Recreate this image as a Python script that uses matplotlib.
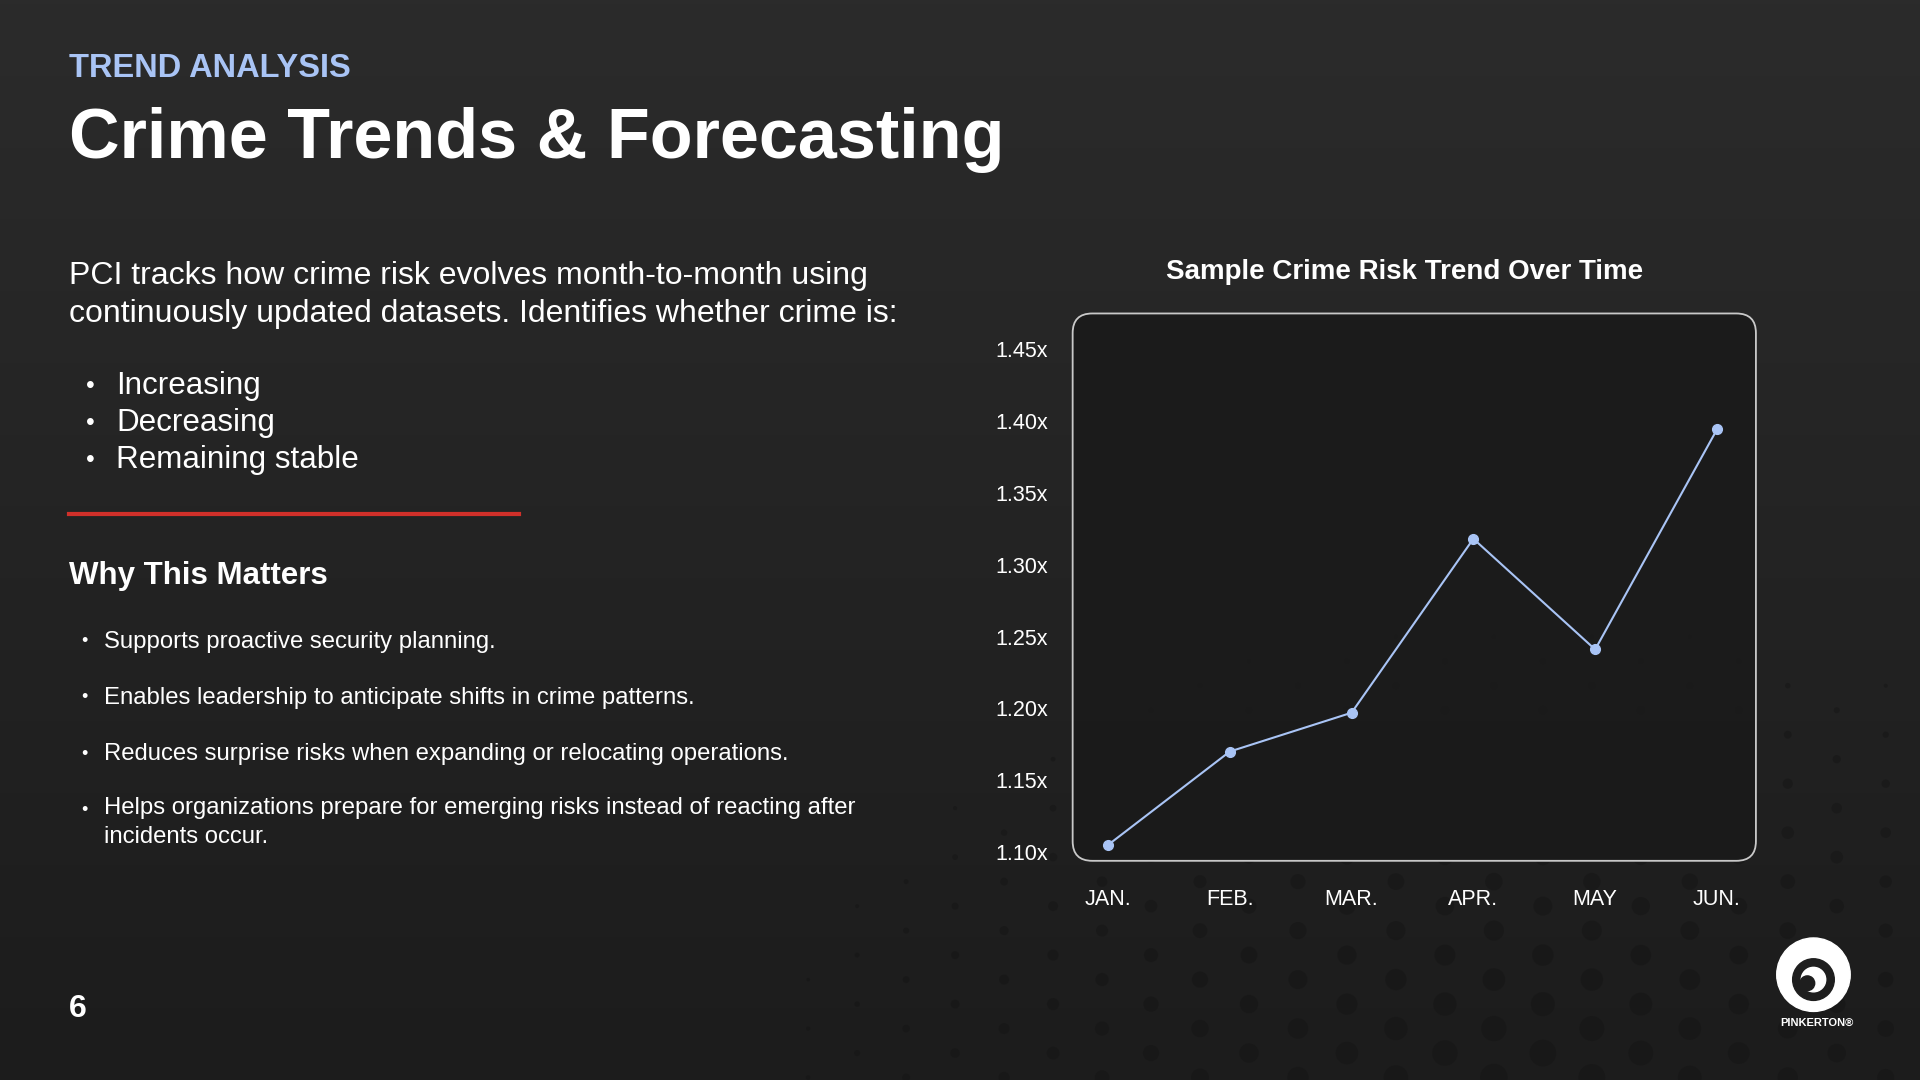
import numpy as np
import matplotlib
matplotlib.use("Agg")
import matplotlib.pyplot as plt
from matplotlib.patches import FancyBboxPatch, Circle, Wedge

months = ["JAN.", "FEB.", "MAR.", "APR.", "MAY", "JUN."]
risk = [1.105, 1.170, 1.197, 1.318, 1.241, 1.394]
yticks = [1.10, 1.15, 1.20, 1.25, 1.30, 1.35, 1.40, 1.45]
ytick_labels = ["1.10x", "1.15x", "1.20x", "1.25x", "1.30x", "1.35x", "1.40x", "1.45x"]
points_main = ["Increasing", "Decreasing", "Remaining stable"]
points_why = ["Supports proactive security planning.",
              "Enables leadership to anticipate shifts in crime patterns.",
              "Reduces surprise risks when expanding or relocating operations.",
              "Helps organizations prepare for emerging risks instead of reacting after\nincidents occur."]

plt.rcParams['font.family'] = ['Liberation Sans', 'DejaVu Sans']
W, H = 1568, 882
fig = plt.figure(figsize=(19.2, 10.8), dpi=100)

def fx(x): return x / W
def fy(y): return 1 - y / H

bg = fig.add_axes([0, 0, 1, 1])
bg.set_axis_off()
grad = np.linspace(0, 1, 256)[:, None] * np.ones((1, 256))
bg.imshow(grad, extent=[0, W, H, 0], cmap=matplotlib.colors.LinearSegmentedColormap.from_list(
    "g", ["#2b2b2b", "#1c1c1c"]), aspect='auto')
for i, x in enumerate(np.arange(60, W, 40)):
    for j, y in enumerate(np.arange(380, H + 30, 40)):
        yy = y + (20 if i % 2 else 0)
        d = np.hypot((x - 1250) / 700, (yy - 900) / 450)
        r = max(0, 12 * (1 - d))
        if r > 1.5:
            bg.add_patch(Circle((x, yy), r, color="#141414", alpha=0.45, lw=0))
bg.set_xlim(0, W); bg.set_ylim(H, 0)

fig.text(fx(56), fy(56), "TREND ANALYSIS", color="#a9c4f5", fontsize=23.5, fontweight="bold", va="center")
fig.text(fx(56), fy(114), "Crime Trends & Forecasting", color="white", fontsize=50.5, fontweight="bold", va="center")
fig.text(fx(56), fy(241), "PCI tracks how crime risk evolves month-to-month using\ncontinuously updated datasets. Identifies whether crime is:",
         color="white", fontsize=23, va="center", linespacing=1.32)
for k, t in enumerate(points_main):
    y = 315 + k * 30.5
    fig.text(fx(70), fy(y), "•", color="white", fontsize=18, va="center")
    fig.text(fx(95), fy(y), t, color="white", fontsize=22.6, va="center")
bg.plot([56, 424], [420, 420], color="#d0302a", lw=3)
fig.text(fx(56), fy(470), "Why This Matters", color="white", fontsize=22.5, fontweight="bold", va="center")
for t, y in zip(points_why, [524, 570, 616, 662]):
    fig.text(fx(66), fy(y), "•", color="white", fontsize=13, va="center")
    if "\n" in t:
        fig.text(fx(85), fy(y - 11), t, color="white", fontsize=17.2, va="top", linespacing=1.4)
    else:
        fig.text(fx(85), fy(y), t, color="white", fontsize=17.2, va="center")
fig.text(fx(56), fy(824), "6", color="white", fontsize=23, fontweight="bold", va="center")

bg.add_patch(Circle((1481, 796), 30, color="white"))
bg.add_patch(Circle((1481, 800), 17, color="#1e1e1e"))
bg.add_patch(Wedge((1481, 800), 10, 0, 360, color="white"))
bg.add_patch(Circle((1476, 803), 6, color="#1e1e1e"))
fig.text(fx(1484), fy(835), "PINKERTON®", color="white", fontsize=8, fontweight="bold", ha="center", va="center")

fig.text(fx(1147), fy(222), "Sample Crime Risk Trend Over Time", color="white", fontsize=20, fontweight="bold",
         ha="center", va="center")
x0, x1, y0, y1 = 876, 1434, 256, 703
bg.add_patch(FancyBboxPatch((x0, y0), x1 - x0, y1 - y0, boxstyle="round,pad=0,rounding_size=16",
                            fc="#1a1a1a", ec="#e8e8e8", lw=1.3, alpha=0.85))
ax = fig.add_axes([fx(x0), fy(y1), fx(x1 - x0), (y1 - y0) / H])
ax.patch.set_alpha(0)
for s in ax.spines.values():
    s.set_visible(False)
xs = np.arange(len(months))
ax.plot(xs, risk, color="#a9c4f5", lw=1.5, marker="o", ms=7, mec="#a9c4f5", mfc="#a9c4f5")
ax.set_xlim(-0.29, 5.32)
ax.set_ylim(1.094, 1.4747)
ax.set_yticks(yticks)
ax.set_yticklabels(ytick_labels)
ax.set_xticks(xs)
ax.set_xticklabels(months)
ax.tick_params(colors="white", labelsize=15.5, length=0)
ax.tick_params(axis="y", pad=18)
ax.tick_params(axis="x", pad=20)

fig.savefig("out.png", dpi=100, facecolor="#232323")
